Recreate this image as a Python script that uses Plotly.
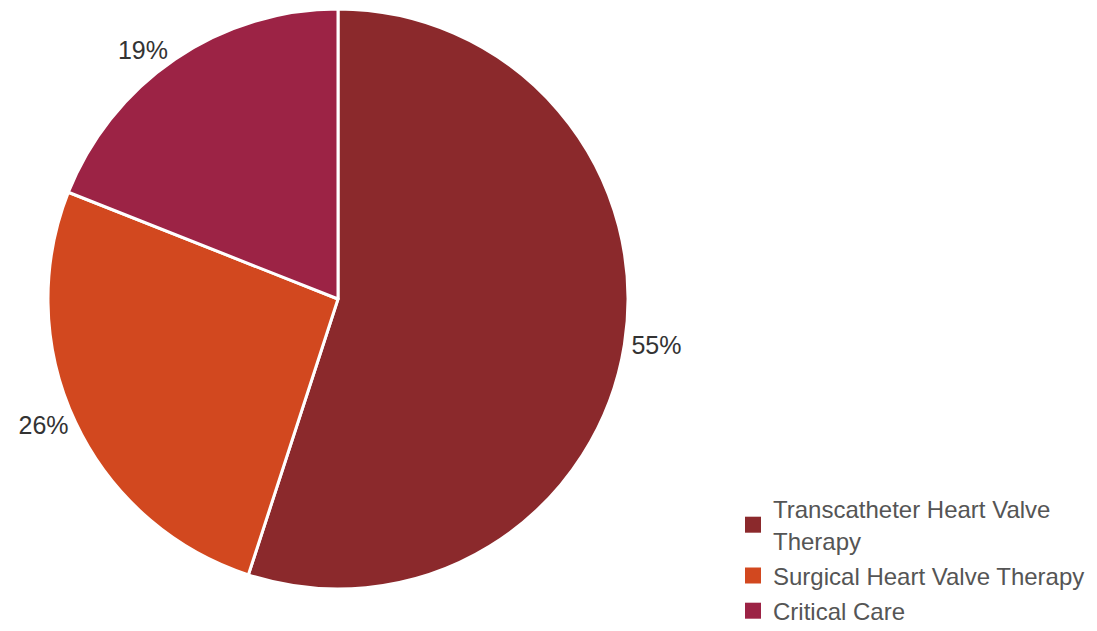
import plotly.graph_objects as go

# Revenue mix by product segment
segments = ["Transcatheter Heart Valve<br>Therapy", "Surgical Heart Valve Therapy", "Critical Care"]
shares = [55, 26, 19]
colors = ["#8B292C", "#D2481F", "#9C2345"]

W, H = 1097, 631
cx, cy, r = 338, 299, 290
FONT = "Liberation Sans, Arial"

fig = go.Figure()

fig.add_trace(
    go.Pie(
        labels=segments,
        values=shares,
        sort=False,
        direction="clockwise",
        rotation=0,
        marker=dict(colors=colors, line=dict(color="white", width=3)),
        texttemplate="%{percent:.0%}",
        textposition="outside",
        outsidetextfont=dict(family=FONT, size=25, color="#333333"),
        domain=dict(x=[(cx - r) / W, (cx + r) / W], y=[1 - (cy + r) / H, 1 - (cy - r) / H]),
        hoverinfo="label+percent",
        showlegend=False,
    )
)

# Legend entries with large square swatches
for i, (name, col) in enumerate(zip(segments, colors)):
    fig.add_trace(
        go.Scatter(
            x=[None],
            y=[None],
            mode="markers",
            name=name,
            legendgroup=f"g{i}",
            marker=dict(symbol="square", size=16, color=col),
            hoverinfo="skip",
        )
    )

fig.update_layout(
    width=W,
    height=H,
    margin=dict(l=0, r=0, t=0, b=0, autoexpand=False),
    paper_bgcolor="white",
    plot_bgcolor="white",
    xaxis=dict(visible=False),
    yaxis=dict(visible=False),
    showlegend=True,
    legend=dict(
        x=733 / W,
        y=1 - 487 / H,
        xanchor="left",
        yanchor="top",
        font=dict(family=FONT, size=24, color="#555555"),
        itemwidth=30,
        tracegroupgap=1,
    ),
)

fig.write_html("out.html")
